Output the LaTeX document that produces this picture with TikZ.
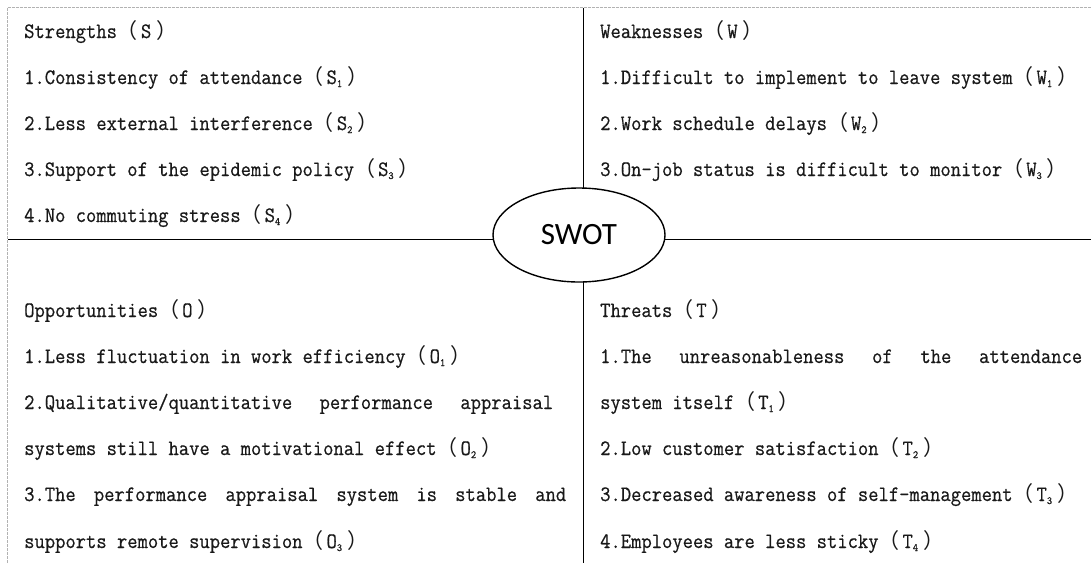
\documentclass[tikz,border=0pt]{standalone}
\usepackage{fontspec}
\usetikzlibrary{shapes.geometric}
\newfontfamily\monofnt[FakeStretch=0.91,FakeBold=0.6]{Latin Modern Mono}
\newfontfamily\cjkfnt{Noto Sans CJK SC}
\newfontfamily\swotfnt{Carlito}
\newcommand\lpar{{\cjkfnt\fontsize{21}{21}\selectfont （}\kern3pt}
\newcommand\rpar{\kern5pt{\cjkfnt\fontsize{21}{21}\selectfont ）}}
\newcommand\subn[1]{\raisebox{-3pt}{\fontsize{11}{11}\selectfont #1}}
\tikzset{
  txt/.style={anchor=base west, inner sep=0pt, text=black!90,
    font=\monofnt\fontsize{22}{22}\selectfont},
  frame/.style={draw=black!30, line width=0.9pt, dash pattern=on 3pt off 1pt},
  axis/.style={draw=black, line width=1pt},
  swotbox/.style={ellipse, draw=black, line width=1.4pt, fill=white,
    minimum width=172pt, minimum height=94pt, inner sep=0pt,
    font=\swotfnt\fontsize{31}{31}\selectfont}
}
\begin{document}
\begin{tikzpicture}[x=1pt,y=-1pt]
\useasboundingbox (0,0) rectangle (1091,563);
% outer dashed frame
\coordinate (fTL) at (7,7.5);
\coordinate (fTR) at (1091,7.5);
\coordinate (fBL) at (7,563);
\draw[frame] (fBL) -- (fTL) -- (fTR);
% axes
\coordinate (aL) at (8,239.5);
\coordinate (aR) at (1091,239.5);
\coordinate (aT) at (583.5,7.5);
\coordinate (aB) at (583.5,563);
\draw[axis] (aL) -- (aR);
\draw[axis] (aT) -- (aB);
\node[swotbox] (swot) at (579,235) {SWOT};

% Strengths
\node[txt] (s0) at (24,38) {Strengths\lpar S\rpar};
\node[txt] (s1) at (24,84) {1.Consistency of attendance\lpar S\subn{1}\rpar};
\node[txt] (s2) at (24,130) {2.Less external interference\lpar S\subn{2}\rpar};
\node[txt] (s3) at (24,176) {3.Support of the epidemic policy\lpar S\subn{3}\rpar};
\node[txt] (s4) at (24,222) {4.No commuting stress\lpar S\subn{4}\rpar};

% Weaknesses
\node[txt] (w0) at (600,38) {Weaknesses\lpar W\rpar};
\node[txt] (w1) at (600,84) {1.Difficult to implement to leave system\lpar W\subn{1}\rpar};
\node[txt] (w2) at (600,130) {2.Work schedule delays\lpar W\subn{2}\rpar};
\node[txt] (w3) at (600,176) {3.On-job status is difficult to monitor\lpar W\subn{3}\rpar};

% Opportunities
\node[txt] (o0) at (24,317) {Opportunities\lpar O\rpar};
\node[txt] (o1) at (24,363) {1.Less fluctuation in work efficiency\lpar O\subn{1}\rpar};
\node[txt] (o2a) at (24,409) {\hbox to 529pt{2.Qualitative/quantitative\hfill performance\hfill appraisal}};
\node[txt] (o2b) at (24,455) {systems still have a motivational effect\lpar O\subn{2}\rpar};
\node[txt] (o3a) at (24,501) {\hbox to 542pt{3.The\hfill performance\hfill appraisal\hfill system\hfill is\hfill stable\hfill and}};
\node[txt] (o3b) at (24,548) {supports remote supervision\lpar O\subn{3}\rpar};

% Threats
\node[txt] (t0) at (600,317) {Threats\lpar T\rpar};
\node[txt] (t1a) at (600,363) {\hbox to 482pt{1.The\hfill unreasonableness\hfill of\hfill the\hfill attendance}};
\node[txt] (t1b) at (600,409) {system itself\lpar T\subn{1}\rpar};
\node[txt] (t2) at (600,455) {2.Low customer satisfaction\lpar T\subn{2}\rpar};
\node[txt] (t3) at (600,501) {3.Decreased awareness of self-management\lpar T\subn{3}\rpar};
\node[txt] (t4) at (600,548) {4.Employees are less sticky\lpar T\subn{4}\rpar};
\end{tikzpicture}
\end{document}
